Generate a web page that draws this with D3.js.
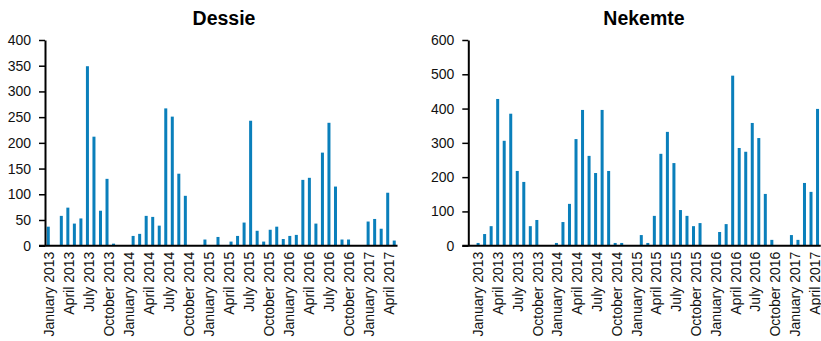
<!DOCTYPE html>
<html>
<head>
<meta charset="utf-8">
<script src="https://cdn.jsdelivr.net/npm/d3@7"></script>
<style>
  html, body { margin: 0; padding: 0; background: #fff; }
  svg { display: block; font-family: "Liberation Sans", Arial, Helvetica, sans-serif; }
</style>
</head>
<body>
<svg id="chart" width="821" height="341"></svg>
<script>
// Monthly periods, January 2013 to June 2017
const months = [
  "January 2013","February 2013","March 2013","April 2013","May 2013","June 2013",
  "July 2013","August 2013","September 2013","October 2013","November 2013","December 2013",
  "January 2014","February 2014","March 2014","April 2014","May 2014","June 2014",
  "July 2014","August 2014","September 2014","October 2014","November 2014","December 2014",
  "January 2015","February 2015","March 2015","April 2015","May 2015","June 2015",
  "July 2015","August 2015","September 2015","October 2015","November 2015","December 2015",
  "January 2016","February 2016","March 2016","April 2016","May 2016","June 2016",
  "July 2016","August 2016","September 2016","October 2016","November 2016","December 2016",
  "January 2017","February 2017","March 2017","April 2017","May 2017","June 2017"
];

// Monthly counts per site
const dessieValues = [
  37, 0, 58, 74, 43, 53, 349, 212, 68, 130, 4, 0,
  0, 19, 23, 58, 56, 39, 267, 251, 140, 97, 0, 0,
  12, 0, 17, 0, 8, 19, 45, 243, 29, 8, 31, 37,
  13, 19, 21, 128, 132, 43, 181, 239, 115, 12, 12, 0,
  0, 47, 52, 33, 103, 10
];
const nekemteValues = [
  0, 8, 34, 57, 428, 306, 385, 218, 186, 57, 75, 0,
  0, 8, 69, 122, 311, 396, 262, 212, 396, 218, 8, 8,
  0, 0, 31, 8, 87, 268, 332, 241, 104, 87, 57, 66,
  0, 0, 40, 63, 496, 285, 274, 358, 314, 151, 17, 0,
  0, 31, 17, 183, 157, 399
];

// Quarterly labels on the time axis
const tickLabels = [
  "January 2013","April 2013","July 2013","October 2013",
  "January 2014","April 2014","July 2014","October 2014",
  "January 2015","April 2015","July 2015","October 2015",
  "January 2016","April 2016","July 2016","October 2016",
  "January 2017","April 2017"
];

const dessieYTicks = [0, 50, 100, 150, 200, 250, 300, 350, 400];
const nekemteYTicks = [0, 100, 200, 300, 400, 500, 600];

// Layout of the two panels
const barColor = "#0a7fbb";
const plotTop = 40, plotBottom = 245.7, plotWidth = 352.5;
const panels = [
  { title: "Dessie",  values: dessieValues,  yTicks: dessieYTicks,  left: 45,    titleX: 224, labelStart: 3.7, labelEnd: 343.3 },
  { title: "Nekemte", values: nekemteValues, yTicks: nekemteYTicks, left: 468.3, titleX: 644, labelStart: 9.4, labelEnd: 346 }
];

const svg = d3.select("#chart");

panels.forEach(p => {
  const g = svg.append("g").attr("transform", `translate(${p.left},0)`);

  const x = d3.scaleBand()
    .domain(months)
    .range([0, plotWidth])
    .paddingInner(0.54)
    .paddingOuter(0.27);

  const y = d3.scaleLinear()
    .domain([0, d3.max(p.yTicks)])
    .range([plotBottom, plotTop]);

  const labelX = d3.scalePoint()
    .domain(tickLabels)
    .range([p.labelStart, p.labelEnd]);

  // Title
  svg.append("text")
    .attr("x", p.titleX)
    .attr("y", 25)
    .attr("text-anchor", "middle")
    .style("font-size", "19.5px")
    .style("font-weight", "bold")
    .text(p.title);

  // Bars
  g.append("g").selectAll("rect")
    .data(p.values.map((v, i) => ({ month: months[i], value: v })))
    .join("rect")
    .attr("x", d => x(d.month))
    .attr("width", x.bandwidth())
    .attr("y", d => y(d.value))
    .attr("height", d => y(0) - y(d.value))
    .attr("fill", barColor);

  // Y axis
  const yAxis = g.append("g")
    .call(d3.axisLeft(y).tickValues(p.yTicks).tickSize(6).tickSizeOuter(0).tickPadding(8));
  yAxis.select(".domain").attr("stroke", "#000").attr("stroke-width", 2);
  yAxis.selectAll(".tick line").attr("stroke", "#000").attr("stroke-width", 1.5);
  yAxis.selectAll(".tick text")
    .attr("fill", "#111")
    .style("font-size", "14px")
    .style("font-family", "'Liberation Sans', Arial, sans-serif");

  // Baseline
  g.append("line")
    .attr("x1", -6)
    .attr("x2", x.range()[1])
    .attr("y1", y(0))
    .attr("y2", y(0))
    .attr("stroke", "#000")
    .attr("stroke-width", 2);

  // Time axis labels
  const xAxis = g.append("g")
    .attr("transform", `translate(0,${y(0)})`)
    .call(d3.axisBottom(labelX).tickSize(0).tickSizeOuter(0));
  xAxis.select(".domain").remove();
  xAxis.selectAll(".tick text")
    .attr("transform", "rotate(-90)")
    .attr("x", -6)
    .attr("y", 0)
    .attr("dy", "0.35em")
    .attr("fill", "#111")
    .style("text-anchor", "end")
    .style("font-size", "14px")
    .style("font-family", "'Liberation Sans', Arial, sans-serif");
});
</script>
</body>
</html>
